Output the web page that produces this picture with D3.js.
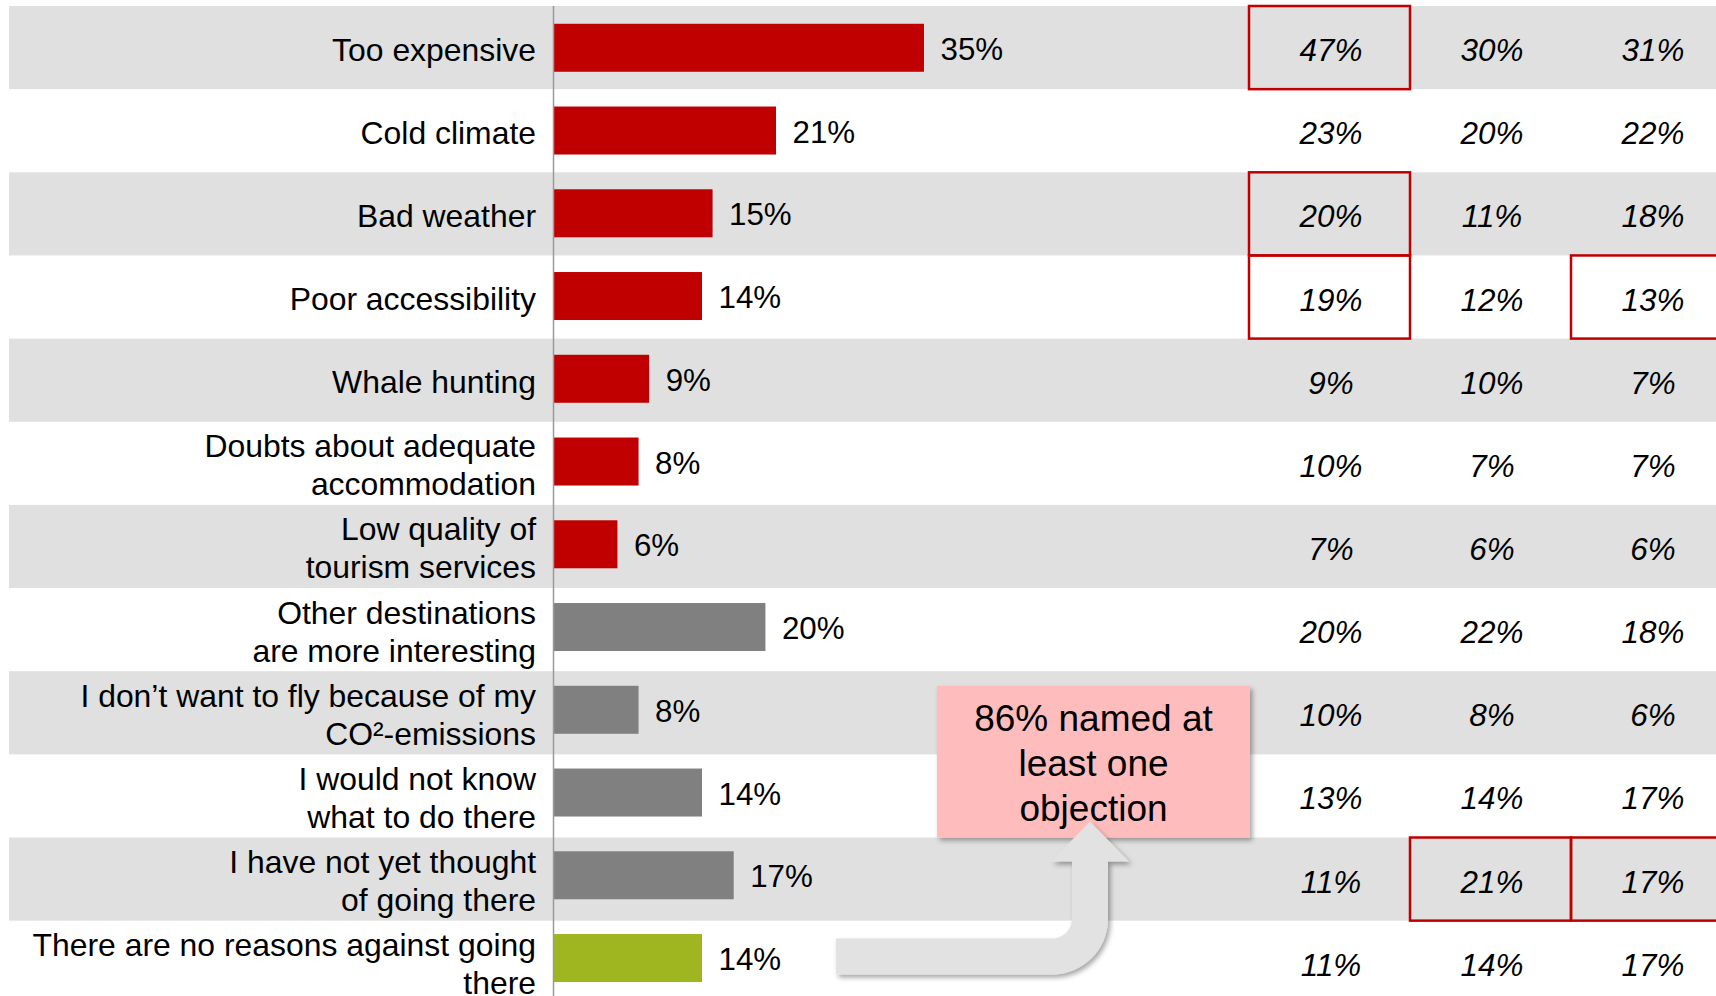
<!DOCTYPE html>
<html>
<head>
<meta charset="utf-8">
<script src="https://cdn.jsdelivr.net/npm/d3@7"></script>
<style>
  html, body { margin: 0; padding: 0; background: #ffffff; overflow: hidden; }
  svg { display: block; }
  text { font-family: "Liberation Sans", Arial, Helvetica, sans-serif; fill: #000; }
</style>
</head>
<body>
<svg id="chart" width="1716" height="996"></svg>
<script>
// Reasons against travelling there (each label split into display lines)
const categories = [
  ["Too expensive"],
  ["Cold climate"],
  ["Bad weather"],
  ["Poor accessibility"],
  ["Whale hunting"],
  ["Doubts about adequate", "accommodation"],
  ["Low quality of", "tourism services"],
  ["Other destinations", "are more interesting"],
  ["I don’t want to fly because of my", "CO²-emissions"],
  ["I would not know", "what to do there"],
  ["I have not yet thought", "of going there"],
  ["There are no reasons against going", "there"]
];

// Share of all respondents, in percent
const totalValues = [35, 21, 15, 14, 9, 8, 6, 20, 8, 14, 17, 14];

// Reason type: concrete objection, other reason, or no reason at all
const reasonType = ["objection", "objection", "objection", "objection", "objection", "objection", "objection",
                    "other", "other", "other", "other", "none"];

// Breakdown columns, in percent
const columnA = [47, 23, 20, 19, 9, 10, 7, 20, 10, 13, 11, 11];
const columnB = [30, 20, 11, 12, 10, 7, 6, 22, 8, 14, 21, 14];
const columnC = [31, 22, 18, 13, 7, 7, 6, 18, 6, 17, 17, 17];

// Cells outlined in red: [row, column]
const highlightedCells = [[0, 0], [2, 0], [3, 0], [3, 2], [10, 1], [10, 2]];

// Callout text
const calloutLines = ["86% named at", "least one", "objection"];

const W = 1716, H = 996;
const svg = d3.select("#chart");

const typeColor = d3.scaleOrdinal()
  .domain(["objection", "other", "none"])
  .range(["#c00000", "#808080", "#a0b621"]);

const rowIdx = d3.range(categories.length);

// Row stripes
const yRow = d3.scaleBand().domain(rowIdx).range([6, 6 + 12 * 83.15]).padding(0);
// Bars
const yBar = d3.scaleBand().domain(rowIdx).range([6.4, 999.4]).paddingInner(0.42).paddingOuter(0.21);
// Bar length
const x = d3.scaleLinear().domain([0, 100]).range([554, 554 + 1057.1]);
// Table columns
const columns = [columnA, columnB, columnC];
const xCol = d3.scaleBand().domain(d3.range(columns.length)).range([1249, 1732]).padding(0);

const labelRight = 536;

// Drop shadow for the callout and arrow
const defs = svg.append("defs");
const shadow = defs.append("filter").attr("id", "softShadow")
  .attr("x", "-10%").attr("y", "-10%").attr("width", "130%").attr("height", "140%");
shadow.append("feDropShadow")
  .attr("dx", 2.5).attr("dy", 3).attr("stdDeviation", 2.5)
  .attr("flood-color", "#000").attr("flood-opacity", 0.35);

// Alternating stripes
svg.append("g").selectAll("rect")
  .data(rowIdx.filter(i => i % 2 === 0))
  .join("rect")
  .attr("x", 9).attr("width", W - 9)
  .attr("y", i => yRow(i)).attr("height", yRow.bandwidth())
  .attr("fill", "#dfe0df");

// Bars
svg.append("g").selectAll("rect")
  .data(rowIdx)
  .join("rect")
  .attr("x", x(0))
  .attr("y", i => yBar(i))
  .attr("width", i => x(totalValues[i]) - x(0))
  .attr("height", yBar.bandwidth())
  .attr("fill", i => typeColor(reasonType[i]));

// Category axis line
svg.append("line")
  .attr("x1", x(0) - 0.5).attr("x2", x(0) - 0.5)
  .attr("y1", yRow.range()[0]).attr("y2", H)
  .attr("stroke", "#9a9a9a").attr("stroke-width", 1.5);

// Category labels
const catG = svg.append("g").attr("font-size", 31.9).attr("text-anchor", "end");
rowIdx.forEach(i => {
  const lines = categories[i];
  const c = yRow(i) + yRow.bandwidth() / 2;
  const lh = 38;
  const first = c + 13 - (lines.length - 1) * lh / 2;
  const label = catG.append("text").attr("x", labelRight);
  lines.forEach((ln, k) => {
    label.append("tspan").attr("x", labelRight).attr("y", first + k * lh).text(ln);
  });
});

// Value labels
svg.append("g").attr("font-size", 31.3).selectAll("text")
  .data(rowIdx)
  .join("text")
  .attr("x", i => x(totalValues[i]) + 16.5)
  .attr("y", i => yBar(i) + yBar.bandwidth() / 2 + 12)
  .text(i => totalValues[i] + "%");

// Breakdown table
const tableG = svg.append("g").attr("font-size", 31.4).attr("font-style", "italic").attr("text-anchor", "middle");
columns.forEach((col, j) => {
  tableG.append("g").selectAll("text")
    .data(rowIdx)
    .join("text")
    .attr("x", xCol(j) + xCol.bandwidth() / 2 + 1.5)
    .attr("y", i => yRow(i) + yRow.bandwidth() / 2 + 13.5)
    .text(i => col[i] + "%");
});

// Highlighted cells
svg.append("g").selectAll("rect")
  .data(highlightedCells)
  .join("rect")
  .attr("x", d => xCol(d[1]))
  .attr("y", d => yRow(d[0]))
  .attr("width", xCol.bandwidth())
  .attr("height", yRow.bandwidth())
  .attr("fill", "none")
  .attr("stroke", "#c00000")
  .attr("stroke-width", 2.5);

// Callout box, right edge meeting the table
const box = { x0: 937, x1: xCol(0) + 1, y0: 686, y1: yRow(10) };
const callout = svg.append("g");
callout.append("rect")
  .attr("x", box.x0).attr("y", box.y0)
  .attr("width", box.x1 - box.x0).attr("height", box.y1 - box.y0)
  .attr("fill", "#ffbcbc")
  .attr("filter", "url(#softShadow)");
const calloutCx = (box.x0 + box.x1) / 2;
callout.append("g").attr("font-size", 37).attr("text-anchor", "middle")
  .selectAll("text")
  .data(calloutLines)
  .join("text")
  .attr("x", calloutCx)
  .attr("y", (d, k) => box.y0 + 45 + k * 45)
  .text(d => d);

// Curved arrow from the "no reasons" row up into the callout
function drawArrow() {
  const thick = 36;                                         // shaft thickness
  const shaftY = yBar(11) + yBar.bandwidth() / 2 - 1.5;     // horizontal centre line
  const shaftX = calloutCx - 3.5;                           // vertical centre line
  const startX = x(0) + 282;                                // tail end
  const rOuter = 56, rInner = rOuter - thick;
  const headBase = 861.5, headTip = 821.5, headHalf = 39;
  const yTop = shaftY - thick / 2, yBot = shaftY + thick / 2;
  const xLeft = shaftX - thick / 2, xRight = shaftX + thick / 2;
  const arcCx = xRight - rOuter, arcCy = yBot - rOuter;
  const p = d3.path();
  p.moveTo(startX, yTop);
  p.lineTo(arcCx, yTop);
  p.arc(arcCx, arcCy, rInner, Math.PI / 2, 0, true);
  p.lineTo(xLeft, headBase);
  p.lineTo(shaftX - headHalf, headBase);
  p.lineTo(shaftX, headTip);
  p.lineTo(shaftX + headHalf, headBase);
  p.lineTo(xRight, headBase);
  p.lineTo(xRight, arcCy);
  p.arc(arcCx, arcCy, rOuter, 0, Math.PI / 2, false);
  p.lineTo(startX, yBot);
  p.closePath();
  svg.append("path")
    .attr("d", p.toString())
    .attr("fill", "#e1e2e1")
    .attr("filter", "url(#softShadow)");
}
drawArrow();
</script>
</body>
</html>
